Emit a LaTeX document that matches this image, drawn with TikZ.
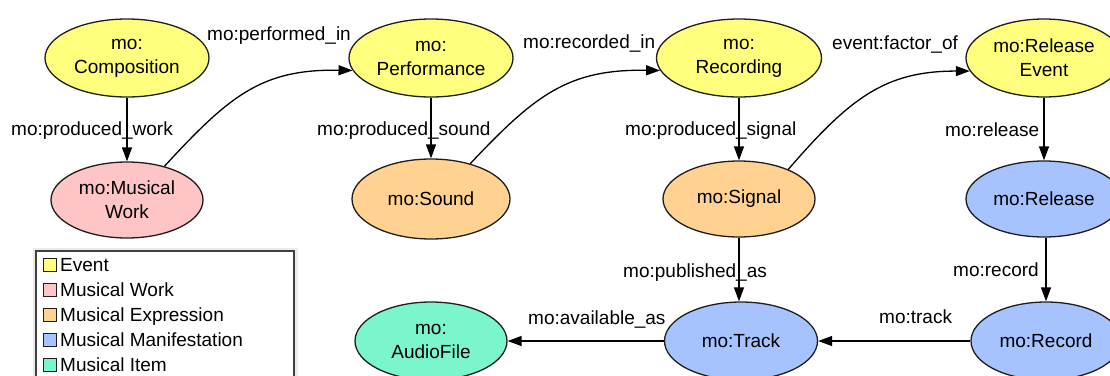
\documentclass[tikz,border=0pt]{standalone}
\usepackage{fontspec}
\setmainfont{Liberation Sans}
\usetikzlibrary{shapes.geometric,arrows.meta}
\definecolor{evY}{RGB}{255,255,125}
\definecolor{wkP}{RGB}{255,196,198}
\definecolor{exO}{RGB}{255,210,145}
\definecolor{mfB}{RGB}{166,194,255}
\definecolor{itG}{RGB}{122,245,204}
\definecolor{bordr}{RGB}{30,30,30}
\tikzset{
  cls/.style={shape=ellipse, draw=bordr, line width=1.3pt, inner sep=0pt, align=center,
     font=\fontsize{19}{24}\selectfont, text=black},
  lbl/.style={inner sep=0pt, anchor=base west, font=\fontsize{19}{24}\selectfont},
  rel/.style={line width=1.3pt, draw=black, -{Triangle[length=14pt,width=10pt]}},
  swatch/.style={draw=bordr, line width=0.8pt, minimum width=13pt, minimum height=13pt, inner sep=0pt},
  leg/.style={inner sep=0pt, anchor=base west, font=\fontsize{19}{24}\selectfont}
}
\begin{document}
\begin{tikzpicture}[x=1pt,y=1pt]
\useasboundingbox (0,0) rectangle (1110,-375);
% nodes
\node[cls, fill=evY, minimum width=164pt, minimum height=78pt] (comp) at (127,-58) {mo:\\Composition};
\node[cls, fill=wkP, minimum width=152pt, minimum height=76pt] (mw) at (127,-200) {mo:Musical\\Work};
\node[cls, fill=evY, minimum width=164pt, minimum height=78pt] (perf) at (431,-58) {mo:\\Performance};
\node[cls, fill=exO, minimum width=158pt, minimum height=80pt] (sound) at (431,-199) {mo:Sound};
\node[cls, fill=evY, minimum width=165pt, minimum height=78pt] (rec) at (739,-58) {mo:\\Recording};
\node[cls, fill=exO, minimum width=152pt, minimum height=76pt] (sig) at (739,-199) {mo:Signal};
\node[cls, fill=evY, minimum width=156pt, minimum height=78pt] (relev) at (1044,-58) {mo:Release\\Event};
\node[cls, fill=mfB, minimum width=156pt, minimum height=76pt] (rels) at (1044,-199) {mo:Release};
\node[cls, fill=mfB, minimum width=150pt, minimum height=78pt] (recd) at (1046,-341) {mo:Record};
\node[cls, fill=mfB, minimum width=153pt, minimum height=78pt] (track) at (741,-341) {mo:Track};
\node[cls, fill=itG, minimum width=152pt, minimum height=78pt] (audio) at (431,-341) {mo:\\AudioFile};
% vertical edges
\draw[rel] (comp) -- (mw);
\draw[rel] (perf) -- (sound);
\draw[rel] (rec) -- (sig);
\draw[rel] (sig.south) -- (sig.south |- track.north);
\draw[rel] (relev) -- (rels);
\draw[rel] (rels.south -| recd.north) -- (recd.north);
% horizontal edges
\draw[rel] (recd) -- (track);
\draw[rel] (track) -- (audio);
% curved edges
\draw[rel] (mw.42) .. controls (230,-95) and (262,-69) .. (perf.189);
\draw[rel] (sound.42) .. controls (535,-95) and (568,-69) .. (rec.189);
\draw[rel] (sig.31) .. controls (850,-98) and (885,-71) .. (relev.190);
% edge labels
\node[lbl] (l1) at (11,-135) {mo:produced\_work};
\node[lbl] (l2) at (207,-40) {mo:performed\_in};
\node[lbl] (l3) at (317,-135) {mo:produced\_sound};
\node[lbl] (l4) at (523,-48) {mo:recorded\_in};
\node[lbl] (l5) at (625,-135) {mo:produced\_signal};
\node[lbl] (l6) at (832,-49) {event:factor\_of};
\node[lbl] (l7) at (945,-136) {mo:release};
\node[lbl] (l8) at (953,-276) {mo:record};
\node[lbl] (l9) at (623,-277) {mo:published\_as};
\node[lbl] (l10) at (528,-324) {mo:available\_as};
\node[lbl] (l11) at (879,-323) {mo:track};
% legend
\draw[line width=3pt, draw=black!8] (34,-390) -- (34,-249) -- (296,-249) -- (296,-390);
\draw[line width=1.2pt, draw=black!75, fill=white] (36,-390) rectangle (294,-251);
\node[swatch, fill=evY] (s1) at (50,-265) {};
\node[swatch, fill=wkP] (s2) at (50,-290) {};
\node[swatch, fill=exO] (s3) at (50,-315) {};
\node[swatch, fill=mfB] (s4) at (50,-340) {};
\node[swatch, fill=itG] (s5) at (50,-365) {};
\node[leg] (t1) at (60,-271) {Event};
\node[leg] (t2) at (60,-296) {Musical Work};
\node[leg] (t3) at (60,-321) {Musical Expression};
\node[leg] (t4) at (60,-346) {Musical Manifestation};
\node[leg] (t5) at (60,-371) {Musical Item};
\end{tikzpicture}
\end{document}
